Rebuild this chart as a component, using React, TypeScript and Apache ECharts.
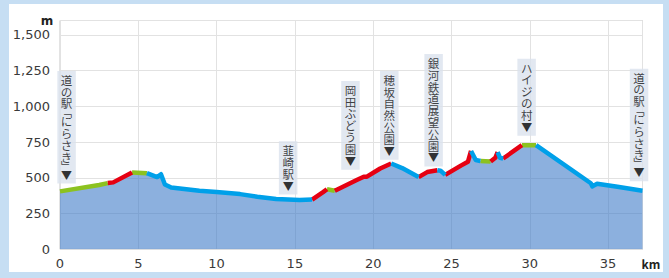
import React, { useEffect, useRef } from 'react';
import * as echarts from 'echarts';

// Route profile: distance (km) and elevation (m)
const distanceKm = [
  0, 2.5, 3.05, 3.4, 4.6, 5.55, 6.2, 6.45, 6.7, 7.1, 8.9, 10, 11.5, 12.6, 13.8, 15.3,
  16.1, 16.8, 17.05, 17.55, 18.95, 19.4, 19.6, 20.45, 21.15, 21.85, 22.9, 23.45, 24.1,
  24.3, 24.6, 25.6, 26.05, 26.25, 26.55, 26.85, 27.5, 27.8, 27.95, 28.1, 28.3, 29.5,
  30.4, 33.9, 34.0, 34.3, 35.6, 37.2,
];
const elevationM = [
  405, 450, 463, 468, 537, 532, 505, 525, 453, 432, 410, 400, 386, 368, 352, 345,
  348, 400, 420, 410, 484, 507, 508, 565, 600, 568, 505, 540, 553,
  550, 520, 585, 612, 688, 625, 618, 614, 640, 680, 640, 635, 728,
  728, 462, 440, 458, 437, 409,
];
// grade of each segment between consecutive points
const segmentGrade = [
  'flat', 'flat', 'up', 'up', 'flat', 'down', 'down', 'down', 'down', 'down', 'down',
  'down', 'down', 'down', 'down', 'down', 'up', 'up', 'flat', 'up', 'up', 'up', 'up',
  'up', 'down', 'down', 'up', 'up', 'down', 'down', 'up', 'up', 'up', 'down', 'down',
  'flat', 'up', 'up', 'down', 'down', 'up', 'flat', 'down', 'down', 'down', 'down', 'down',
];
const gradeNames = ['flat', 'up', 'down'];
const gradeColors = ['#8cc220', '#e60012', '#00a0e9'];

// Landmarks
const landmarkNames = [
  '道の駅「にらさき」', '韮崎駅', '岡田ぶどう園', '穂坂自然公園', '銀河鉄道展望公園', 'ハイジの村', '道の駅「にらさき」',
];
const landmarkKm = [0.42, 14.57, 18.55, 21.03, 23.86, 29.8, 36.98];
const landmarkLabelM = [456, 379, 553, 623, 576, 791, 472];

// Axes
const xMaxKm = 37.2;
const xTickStep = 5;
const yMaxM = 1600;
const yTickStep = 250;

function buildGradeLine(grade: string) {
  const data: any[] = [];
  for (let i = 0; i < segmentGrade.length; i++) {
    if (segmentGrade[i] !== grade) continue;
    const startsRun = i === 0 || segmentGrade[i - 1] !== grade;
    if (startsRun) {
      if (data.length) data.push([distanceKm[i], '-']);
      data.push([distanceKm[i], elevationM[i]]);
    }
    data.push([distanceKm[i + 1], elevationM[i + 1]]);
  }
  return data;
}

function verticalText(name: string) {
  const parts = Array.from(name).map((c) => {
    if (c === '「') return '{b|﹁}';
    if (c === '」') return '{b|﹂}';
    return c;
  });
  parts.push('{t|▼}');
  return parts.join('\n');
}

export default function App() {
  const ref = useRef<HTMLDivElement>(null);

  useEffect(() => {
    if (!ref.current) return;
    const chart = echarts.init(ref.current, null, { renderer: 'svg' });
    const axisFont = { fontFamily: 'DejaVu Sans', fontSize: 13, color: '#3a3a3a' };

    const lineSeries = gradeNames.map((g, k) => ({
      type: 'line',
      name: g,
      data: buildGradeLine(g),
      showSymbol: false,
      symbol: 'none',
      connectNulls: false,
      lineStyle: { color: gradeColors[k], width: 4.5, join: 'round', cap: 'butt' },
      z: 3,
    }));

    chart.setOption({
      animation: false,
      grid: {
        left: 60,
        right: 26.5,
        top: 20.5,
        bottom: 28.7,
        show: true,
        borderColor: '#c6c6c6',
        borderWidth: 1,
        backgroundColor: 'transparent',
      },
      xAxis: {
        type: 'value',
        min: 0,
        max: xMaxKm,
        interval: xTickStep,
        axisLine: { show: false },
        axisTick: { show: false },
        axisLabel: {
          ...axisFont,
          margin: 8,
          formatter: (v: number) => (v % xTickStep === 0 ? String(v) : ''),
        },
        splitLine: { show: true, lineStyle: { color: '#e2e2e2', width: 1 } },
      },
      yAxis: {
        type: 'value',
        min: 0,
        max: yMaxM,
        interval: yTickStep,
        axisLine: { show: false },
        axisTick: { show: false },
        axisLabel: {
          ...axisFont,
          margin: 10,
          formatter: (v: number) => (v % yTickStep === 0 ? v.toLocaleString('en-US') : ''),
        },
        splitLine: { show: true, lineStyle: { color: '#e2e2e2', width: 1 } },
      },
      graphic: [
        {
          type: 'text',
          x: 47,
          y: 21,
          style: {
            text: 'm',
            font: 'bold 12px "DejaVu Sans"',
            fill: '#222',
            align: 'center',
            verticalAlign: 'middle',
          },
        },
        {
          type: 'text',
          x: 651,
          y: 263,
          style: {
            text: 'km',
            font: 'bold 12px "Noto Sans CJK JP"',
            fill: '#222',
            align: 'center',
            verticalAlign: 'middle',
          },
        },
      ],
      series: [
        {
          type: 'line',
          name: 'elevation',
          data: distanceKm.map((x, i) => [x, elevationM[i]]),
          showSymbol: false,
          symbol: 'none',
          lineStyle: { width: 0, opacity: 0 },
          areaStyle: { color: '#3f7cc8', opacity: 0.6 },
          z: 2,
        },
        ...lineSeries,
        {
          type: 'scatter',
          name: 'landmarks',
          data: landmarkKm.map((x, i) => ({ value: [x, landmarkLabelM[i]], name: landmarkNames[i] })),
          symbolSize: 1,
          itemStyle: { color: 'rgba(0,0,0,0)' },
          clip: false,
          z: 5,
          label: {
            show: true,
            position: 'top',
            distance: 0,
            formatter: (p: any) => verticalText(p.name),
            backgroundColor: '#dbe2ed',
            padding: [3, 3.5, 3, 3.5],
            color: '#111',
            fontFamily: '"Noto Sans CJK JP"',
            fontSize: 11.5,
            lineHeight: 11.8,
            align: 'center',
            rich: {
              b: { fontFamily: '"Noto Sans CJK JP"', fontSize: 11, lineHeight: 6, color: '#111' },
              t: { fontFamily: '"Noto Sans CJK JP"', fontSize: 11, lineHeight: 12, color: '#000' },
            },
          },
        },
      ],
    });

    return () => chart.dispose();
  }, []);

  return (
    <div
      style={{
        position: 'fixed',
        left: 0,
        top: 0,
        width: 669,
        height: 278,
        background: '#c6def3',
        overflow: 'hidden',
      }}
    >
      <div
        style={{
          position: 'absolute',
          left: 9,
          top: 4,
          width: 654,
          height: 268,
          background: '#ffffff',
        }}
      />
      <div ref={ref} style={{ position: 'absolute', left: 0, top: 0, width: 669, height: 278 }} />
    </div>
  );
}
